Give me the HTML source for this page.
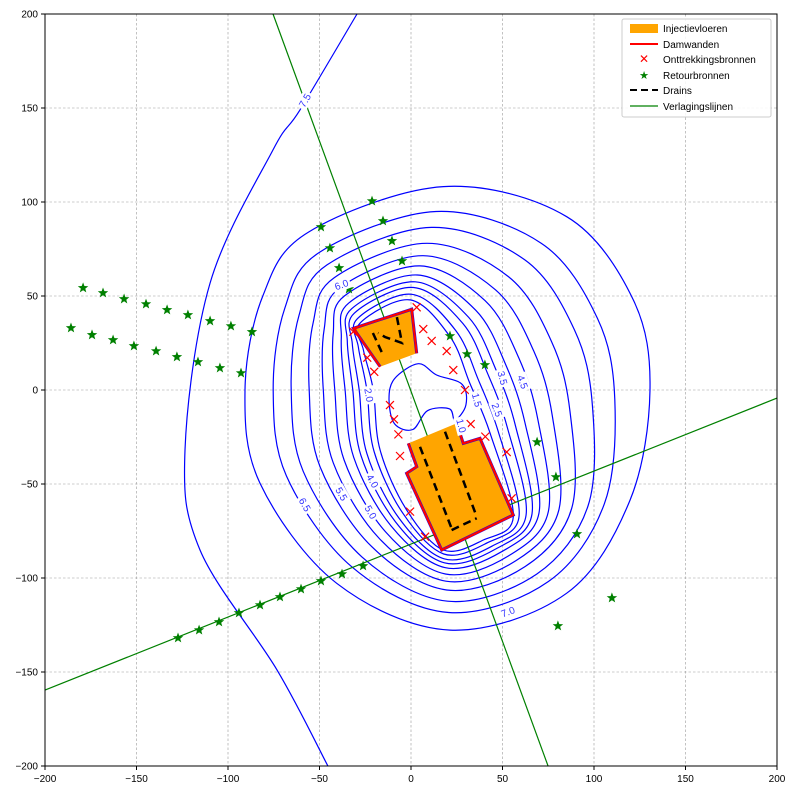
<!DOCTYPE html>
<html><head><meta charset="utf-8"><style>
body{margin:0;background:#fff}
svg{display:block;font-family:"Liberation Sans",Arial,sans-serif}
</style></head><body>
<svg id="chart" width="795" height="796" viewBox="0 0 795 796" xmlns="http://www.w3.org/2000/svg">
<rect x="0" y="0" width="795" height="796" fill="#fff"/>
<g id="grid"></g>
<g id="contours"></g>
<g id="lines"></g>
<g id="floors"></g>
<g id="marks"></g>
<g id="labels"></g>
<rect x="45" y="14" width="732" height="752" fill="none" stroke="#000" stroke-width="1"/>
<g id="ticks"></g>
<g>
<rect x="622" y="19" width="149" height="98" rx="2" fill="#fff" fill-opacity="0.85" stroke="#ccc"/>
<rect x="630" y="24" width="28" height="9" fill="#ffa500"/>
<text x="663" y="32" font-size="10">Injectievloeren</text>
<line x1="630" y1="44" x2="658" y2="44" stroke="#f00" stroke-width="2"/>
<text x="663" y="48" font-size="10">Damwanden</text>
<text x="644" y="63" font-size="12" fill="#f00" text-anchor="middle">✕</text>
<text x="663" y="63" font-size="10">Onttrekkingsbronnen</text>
<text x="644" y="79" font-size="11" fill="green" text-anchor="middle">★</text>
<text x="663" y="79" font-size="10">Retourbronnen</text>
<line x1="630" y1="90" x2="658" y2="90" stroke="#000" stroke-width="2" stroke-dasharray="7,4"/>
<text x="663" y="94" font-size="10">Drains</text>
<line x1="630" y1="106" x2="658" y2="106" stroke="green" stroke-width="1.2"/>
<text x="663" y="110" font-size="10">Verlagingslijnen</text>
</g>
</svg>
<script>
const xTicks=[-200,-150,-100,-50,0,50,100,150,200];
const yTicks=[-200,-150,-100,-50,0,50,100,150,200];
const outerLoop=[[-90.7,0],[-81,50],[-56,84],[17.7,108.2],[85.1,92.2],[121.5,47.9],[130.6,0],[119.7,-58.5],[85.1,-108.1],[21.3,-127.7],[-40.6,-102.8],[-82.5,-49.6]];
const innerLoop=[[-20.6,0],[-26,21.3],[-27.9,35.5],[-0.5,47.9],[21.3,28.4],[32.2,3.5],[43.2,-23],[55.9,-67.4],[39.5,-79.8],[17.7,-85.1],[-2.4,-63.8],[-16.9,-31.9]];
const levelFrac=[0,0.22,0.36,0.5,0.61,0.7,0.78,0.84,0.89,0.95,1];
const openContour=[[-29.5,200],[-60.7,148.9],[-75.4,127.7],[-109.8,56.9],[-123.5,-31.9],[-115.3,-85.1],[-73.2,-148.9],[-45.4,-200]];
const pocket=[[-9,6],[-12,-5],[-9,-18],[1,-21],[9,-11],[21,-10],[24,-16],[30,-8],[28,3],[14,8],[4,14]];
const upperFloor=[[-31.5,32.8],[0.4,42.9],[3.1,19.5],[-16.9,12.4]];
const lowerFloor=[[-1.5,-28.4],[3.1,-40.8],[-2.4,-44.3],[16.8,-85.1],[55.9,-66.5],[37.7,-25.7],[28.6,-28.4],[25,-17.7]];
const upperWall=[[-16.9,12.4],[-31.5,32.8],[0.4,42.9],[3.1,19.5]];
const lowerWall=[[-1.5,-28.4],[3.1,-40.8],[-2.4,-44.3],[16.8,-85.1],[55.9,-66.5],[37.7,-25.7],[28.6,-28.4],[25,-17.7]];
const drains=[[[-20.8,30.3],[-15.8,19.7]],[[-7.7,38.8],[-4.9,25],[-14.2,28.2],[-18,30.3]],[[4.9,-30.2],[22.2,-73.6]],[[18.6,-22.2],[35.9,-67.4]],[[22.2,-74.5],[35.9,-68.2]]];
const extractX=[3.1,6.7,11.3,19.5,23.1,29.5,-11.5,-9.3,-6.9,-6,32.6,40.6,52.3,55,-0.5,7.7,-23.9,-20.1,-31.5];
const extractY=[44,32.4,26.1,20.7,10.6,0,-8,-15.6,-23.6,-35.1,-18.1,-24.8,-33,-57.6,-64.7,-78,17.2,9.7,31];
const returnX=[-49.2,-44.3,-39.3,-33.9,-21.3,-15.3,-10.4,-4.9,21.3,30.6,40.4,50.3,68.9,79.2,90.7,80.3,109.8,-179.2,-168.3,-156.8,-144.8,-133.3,-121.9,-109.8,-98.4,-86.9,-185.8,-174.3,-162.8,-151.4,-139.3,-127.9,-116.4,-104.4,-92.9,-127.3,-115.8,-104.9,-94,-82.5,-71.6,-60.1,-49.2,-37.7,-26.2];
const returnY=[86.7,75.5,64.9,53.7,100.5,89.9,79.3,68.6,28.7,19.1,13.3,6.9,-27.7,-46.3,-76.6,-125.5,-110.6,54.3,51.6,48.4,45.7,42.6,39.9,36.7,34,30.9,33,29.3,26.6,23.4,20.7,17.6,14.9,11.7,9,-131.9,-127.7,-123.4,-118.6,-114.4,-110.1,-105.9,-101.6,-97.9,-93.6];
const sightLines=[[[-75.4,200],[74.9,-200]],[[-200,-159.6],[200,-4.3]]];
const labelText=["7.5","6.0","6.5","5.5","5.0","4.0","2.0","1.5","2.5","3.5","4.5","7.0","1.0"];
const labelX=[-58,-38,-58,-38,-22,-21,-23,36,47,50,61,53,27.5];
const labelY=[154,56,-61,-55.3,-65,-48.4,-2.7,-5.3,-10.6,6.4,4.3,-118,-19];
const labelRot=[-60,-20,60,60,60,60,80,75,70,75,70,-20,75];

const X=v=>45+(v+200)*732/400;
const Y=v=>14+(200-v)*752/400;
const NS="http://www.w3.org/2000/svg";
function mk(tag,attrs,parent){const e=document.createElementNS(NS,tag);for(const k in attrs)e.setAttribute(k,attrs[k]);parent.appendChild(e);return e;}
function spline(pts,closed){
  const p=pts.map(q=>[X(q[0]),Y(q[1])]);const n=p.length;
  let d="M"+p[0][0].toFixed(1)+","+p[0][1].toFixed(1);
  const segs=closed?n:n-1;
  for(let i=0;i<segs;i++){
    const p0=p[closed?(i-1+n)%n:Math.max(i-1,0)],p1=p[i],p2=p[(i+1)%n],p3=p[closed?(i+2)%n:Math.min(i+2,n-1)];
    const c1=[p1[0]+(p2[0]-p0[0])/6,p1[1]+(p2[1]-p0[1])/6],c2=[p2[0]-(p3[0]-p1[0])/6,p2[1]-(p3[1]-p1[1])/6];
    d+=" C"+c1.map(v=>v.toFixed(1))+" "+c2.map(v=>v.toFixed(1))+" "+p2.map(v=>v.toFixed(1));
  }
  return d+(closed?"Z":"");
}
function poly(pts){return pts.map(q=>X(q[0]).toFixed(1)+","+Y(q[1]).toFixed(1)).join(" ");}

const grid=document.getElementById('grid'),ticks=document.getElementById('ticks');
xTicks.forEach(t=>{
  const l=mk('line',{x1:X(t),x2:X(t),y1:14,y2:766,stroke:'#999','stroke-width':0.6,'stroke-dasharray':'2.5,2'},grid);
  
  
  mk('line',{x1:X(t),x2:X(t),y1:766,y2:770,stroke:'#000'},ticks);
  const tx=mk('text',{x:X(t),y:782,'font-size':10,'text-anchor':'middle'},ticks);
  tx.textContent=t<0?"−"+(-t):String(t);
  
  
});
yTicks.forEach(t=>{
  const l=mk('line',{x1:45,x2:777,y1:Y(t),y2:Y(t),stroke:'#999','stroke-width':0.6,'stroke-dasharray':'2.5,2'},grid);
  
  
  mk('line',{x1:41,x2:45,y1:Y(t),y2:Y(t),stroke:'#000'},ticks);
  const tx=mk('text',{x:38,y:Y(t)+3.5,'font-size':10,'text-anchor':'end'},ticks);
  tx.textContent=t<0?"−"+(-t):String(t);
  
  
});

const cg=document.getElementById('contours');
levelFrac.forEach(f=>{
  const pts=outerLoop.map((o,i)=>[o[0]+(innerLoop[i][0]-o[0])*f,o[1]+(innerLoop[i][1]-o[1])*f]);
  const p=mk('path',{d:spline(pts,true),fill:'none',stroke:'#00f','stroke-width':1.2},cg);
  
  
});
let oc=mk('path',{d:spline(openContour,false),fill:'none',stroke:'#00f','stroke-width':1.2},cg);


let pk=mk('path',{d:spline(pocket,true),fill:'none',stroke:'#00f','stroke-width':1.2},cg);



const lg=document.getElementById('lines');
sightLines.forEach(s=>{
  const l=mk('line',{x1:X(s[0][0]),y1:Y(s[0][1]),x2:X(s[1][0]),y2:Y(s[1][1]),stroke:'green','stroke-width':1.2},lg);
  
  
});

const fg=document.getElementById('floors');
[upperFloor,lowerFloor].forEach(f=>{
  const p=mk('polygon',{points:poly(f),fill:'#ffa500'},fg);
  
  
});
[upperWall,lowerWall].forEach(w=>{
  const b=mk('polyline',{points:poly(w),fill:'none',stroke:'#00f','stroke-width':3},fg);
  
  
  const p=mk('polyline',{points:poly(w),fill:'none',stroke:'#f00','stroke-width':2.2},fg);
  
  
});
drains.forEach(d=>{
  const p=mk('polyline',{points:poly(d),fill:'none',stroke:'#000','stroke-width':2.5,'stroke-dasharray':'8,5'},fg);
  
  
});

const mg=document.getElementById('marks');
extractX.forEach((x,i)=>{
  const cx=X(x),cy=Y(extractY[i]);
  const p=mk('path',{d:`M${cx-4},${cy-4}L${cx+4},${cy+4}M${cx-4},${cy+4}L${cx+4},${cy-4}`,stroke:'#f00','stroke-width':1.2},mg);
  
  
});
function star(cx,cy,r){let s=[];for(let k=0;k<10;k++){const a=-Math.PI/2+k*Math.PI/5,rr=k%2?r*0.42:r;s.push((cx+rr*Math.cos(a)).toFixed(1)+","+(cy+rr*Math.sin(a)).toFixed(1));}return s.join(" ");}
returnX.forEach((x,i)=>{
  const p=mk('polygon',{points:star(X(x),Y(returnY[i]),5.5),fill:'green'},mg);
  
  
});

const lb=document.getElementById('labels');
labelText.forEach((t,i)=>{
  const cx=X(labelX[i]),cy=Y(labelY[i]);
  const g=mk('g',{transform:`translate(${cx},${cy}) rotate(${labelRot[i]})`},lb);
  
  
  mk('rect',{x:-9,y:-6,width:18,height:12,fill:'#fff'},g);
  const tx=mk('text',{x:0,y:3.5,'font-size':10,fill:'#33f','text-anchor':'middle'},g);
  tx.textContent=t;
});
</script>
</body></html>
